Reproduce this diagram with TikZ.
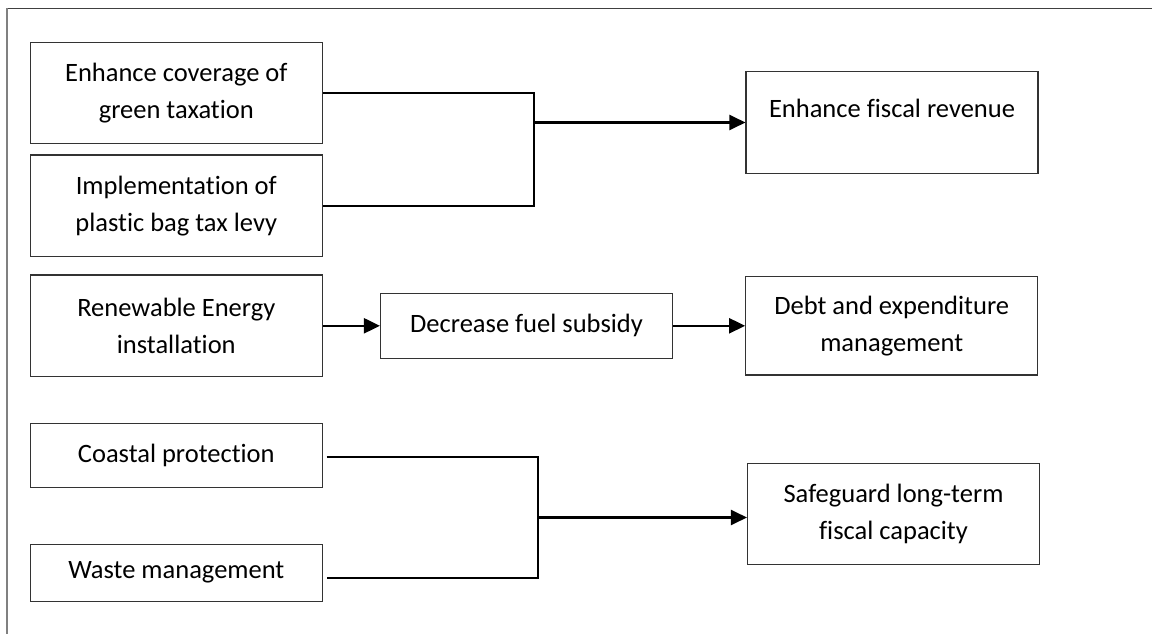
\documentclass[tikz,border=0pt]{standalone}
\usepackage{fontspec}
\setmainfont{Carlito}[Ligatures=NoCommon]
\usetikzlibrary{arrows.meta,calc}
\begin{document}
\begin{tikzpicture}[x=1pt,y=-1pt,
  box/.style={draw=black!80, line width=1.1pt, minimum width=292pt, inner sep=0pt,
    align=center, font=\fontsize{26.5}{36.7}\selectfont},
  conn/.style={line width=2.2pt, black},
  arr/.style={conn, -{Triangle[length=16pt,width=15pt]}}]
\useasboundingbox (0,0) rectangle (1152,634);
% frame
\draw[black!75, line width=1.5pt] (6.3,8.5) -- (1152,8.5);
\draw[black!50, line width=1.5pt] (7,8.5) -- (7,634);
% left column
\node[box, minimum height=101pt]   (b1) at (176.3,92.8)  {Enhance coverage of\\green taxation};
\node[box, minimum height=101.7pt] (b2) at (176.3,205.8) {Implementation of\\plastic bag tax levy};
\node[box, minimum height=101.7pt] (b3) at (176.3,325.8) {Renewable Energy\\installation};
\node[box, minimum height=64pt]    (b4) at (176.3,455.3) {Coastal protection};
\node[box, minimum height=56.7pt]  (b5) at (176.3,572.7) {Waste management};
% middle
\node[box, minimum height=65pt]    (dec) at (526.5,325.8) {Decrease fuel subsidy};
% right column
\node[box, minimum height=101.6pt, text height=19pt, text depth=29.4pt] (fis) at (892,122.5) {Enhance fiscal revenue};
\node[box, minimum height=98.3pt]  (debt) at (891.7,325.8) {Debt and expenditure\\management};
\node[box, minimum height=101.3pt] (safe) at (893.5,513.7) {Safeguard long-term\\fiscal capacity};
% connectors top
\coordinate (j1) at ($(fis.west)+(-211.4,0)$);
\draw[conn] (b1.east) -| (j1) |- (b2.east);
\draw[arr] (j1) -- (fis.west);
% middle row
\draw[arr] (b3.east) -- (dec.west);
\draw[arr] (dec.east) -- (debt.west);
% bottom
\coordinate (c1) at ($(b4.east)+(3.7,1.7)$);
\coordinate (c2) at ($(b5.east)+(3.7,5.3)$);
\coordinate (j2) at (537.7,517.5);
\draw[conn] (c1) -| (j2) |- (c2);
\draw[arr] (j2) -- (j2 -| safe.west);
\end{tikzpicture}
\end{document}
